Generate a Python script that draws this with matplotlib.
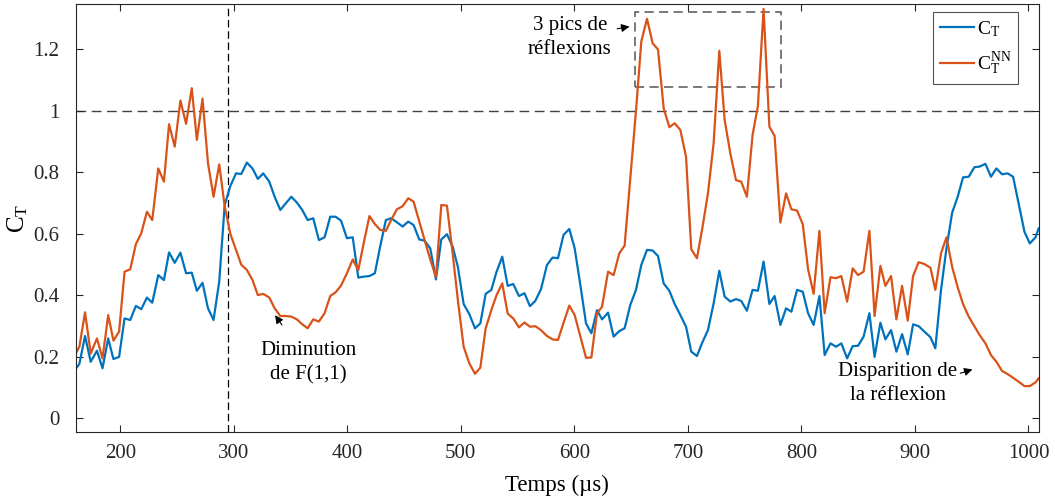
import matplotlib
matplotlib.use('Agg')
import matplotlib.pyplot as plt
from matplotlib.patches import Rectangle

plt.rcParams['font.family'] = ['Liberation Serif', 'DejaVu Serif']
plt.rcParams['mathtext.fontset'] = 'custom'
plt.rcParams['mathtext.rm'] = 'Liberation Serif'
plt.rcParams['mathtext.it'] = 'Liberation Serif:italic'

# temps (us)
temps = [160.4, 164, 169, 174, 179.5, 184.4, 189.4, 194, 199, 203.8,
         208.8, 213.8, 218.5, 223.5, 228.2, 233.5, 238.5, 243, 248, 253,
         258, 263, 267.5, 272.5, 277.3, 282.2, 287.2, 292, 297, 302,
         306.6, 311.5, 316.5, 321.2, 326, 331.3, 336, 341, 346, 350.7,
         355.6, 360.3, 365.1, 370, 375, 380, 385, 389.7, 394.5, 399.7,
         404.8, 409.7, 414.4, 419.5, 424.3, 429, 434, 438.6, 443.7, 448.7,
         453.7, 458.4, 463.4, 468.1, 473.1, 478.1, 482.8, 487.8, 492.8, 497.4,
         502.5, 507.5, 512.5, 517.2, 521.9, 526.9, 531.5, 536.5, 541.3, 546.2,
         551.2, 556.1, 560.9, 565.6, 570.6, 575.9, 580.8, 585.6, 590.5, 595.6,
         600.3, 605.3, 610.3, 615, 620, 624.4, 629.7, 634.6, 639.6, 644.3,
         649.3, 654.3, 659, 664, 669, 673.7, 678.7, 683.7, 688.4, 693.4,
         698.4, 703, 708, 713, 717.7, 722.7, 727.7, 732.4, 737.4, 742.4,
         747, 752, 757, 761.7, 766.7, 771.8, 776.4, 781.5, 786.5, 791.2,
         796.2, 801.2, 805.9, 810.8, 815.9, 820.5, 825.6, 830.6, 835.2, 840.3,
         845.2, 849.9, 854.8, 859.9, 864.5, 869.6, 874, 879, 883.7, 888.7,
         893.7, 898.4, 903.3, 908.4, 913.7, 918, 923, 927.8, 932.8, 937.7,
         942.4, 947.4, 952.4, 957, 962.1, 967, 971.8, 976.8, 981.7, 986.5,
         991.5, 996.5, 1001.2, 1006.2, 1009]

ct = [0.159, 0.177, 0.268, 0.184, 0.22, 0.163, 0.26, 0.193, 0.2, 0.325,
      0.32, 0.366, 0.355, 0.393, 0.376, 0.466, 0.45, 0.54, 0.506, 0.539,
      0.472, 0.474, 0.415, 0.441, 0.358, 0.32, 0.445, 0.694, 0.756, 0.797,
      0.795, 0.832, 0.813, 0.779, 0.797, 0.77, 0.721, 0.678, 0.7, 0.721,
      0.702, 0.678, 0.645, 0.651, 0.58, 0.589, 0.656, 0.656, 0.643, 0.586,
      0.589, 0.458, 0.461, 0.463, 0.472, 0.56, 0.645, 0.651, 0.638, 0.624,
      0.64, 0.629, 0.582, 0.578, 0.553, 0.452, 0.582, 0.599, 0.559, 0.493,
      0.372, 0.339, 0.293, 0.309, 0.405, 0.418, 0.477, 0.526, 0.431, 0.437,
      0.398, 0.407, 0.365, 0.382, 0.42, 0.499, 0.523, 0.521, 0.597, 0.616,
      0.553, 0.434, 0.309, 0.277, 0.352, 0.322, 0.344, 0.266, 0.284, 0.293,
      0.369, 0.418, 0.499, 0.548, 0.546, 0.528, 0.439, 0.415, 0.372, 0.336,
      0.298, 0.217, 0.203, 0.249, 0.287, 0.374, 0.48, 0.396, 0.38, 0.388,
      0.382, 0.35, 0.418, 0.415, 0.51, 0.372, 0.398, 0.304, 0.358, 0.347,
      0.418, 0.412, 0.342, 0.304, 0.398, 0.206, 0.244, 0.233, 0.244, 0.195,
      0.235, 0.236, 0.266, 0.342, 0.2, 0.311, 0.257, 0.287, 0.217, 0.274,
      0.208, 0.306, 0.3, 0.282, 0.264, 0.228, 0.418, 0.553, 0.669, 0.721,
      0.784, 0.786, 0.817, 0.819, 0.828, 0.786, 0.813, 0.794, 0.797, 0.786,
      0.697, 0.607, 0.569, 0.589, 0.618]

ct_nn = [0.208, 0.233, 0.345, 0.211, 0.26, 0.195, 0.336, 0.253, 0.282, 0.477,
         0.485, 0.567, 0.602, 0.672, 0.645, 0.813, 0.77, 0.957, 0.884, 1.034,
         0.958, 1.074, 0.906, 1.04, 0.83, 0.721, 0.826, 0.69, 0.6, 0.548,
         0.5, 0.483, 0.45, 0.401, 0.405, 0.393, 0.358, 0.333, 0.333, 0.331,
         0.322, 0.306, 0.293, 0.322, 0.315, 0.342, 0.398, 0.41, 0.432, 0.472,
         0.517, 0.482, 0.569, 0.658, 0.632, 0.613, 0.61, 0.645, 0.68, 0.69,
         0.716, 0.705, 0.64, 0.58, 0.517, 0.46, 0.694, 0.692, 0.537, 0.385,
         0.233, 0.179, 0.145, 0.165, 0.293, 0.352, 0.401, 0.439, 0.341, 0.325,
         0.296, 0.312, 0.298, 0.3, 0.287, 0.268, 0.257, 0.255, 0.311, 0.367,
         0.336, 0.266, 0.197, 0.198, 0.342, 0.363, 0.477, 0.466, 0.537, 0.562,
         0.78, 1.0, 1.226, 1.3, 1.22, 1.2, 1.009, 0.947, 0.96, 0.938,
         0.851, 0.55, 0.521, 0.624, 0.732, 0.895, 1.196, 0.971, 0.862, 0.775,
         0.77, 0.721, 0.922, 1.016, 1.332, 0.949, 0.919, 0.637, 0.732, 0.68,
         0.676, 0.632, 0.485, 0.405, 0.61, 0.342, 0.459, 0.456, 0.463, 0.38,
         0.488, 0.466, 0.477, 0.61, 0.333, 0.496, 0.431, 0.463, 0.322, 0.431,
         0.318, 0.463, 0.508, 0.502, 0.49, 0.418, 0.537, 0.589, 0.493, 0.426,
         0.372, 0.331, 0.3, 0.271, 0.244, 0.206, 0.184, 0.154, 0.144, 0.132,
         0.119, 0.105, 0.105, 0.117, 0.13]

yticks = [0, 0.2, 0.4, 0.6, 0.8, 1, 1.2]
ytick_labels = ['0', '0.2', '0.4', '0.6', '0.8', '1', '1.2']
xticks = [200, 300, 400, 500, 600, 700, 800, 900, 1000]

blue = '#0072BD'
orange = '#D95319'
fs = 15

fig = plt.figure(figsize=(10.55, 4.97), dpi=100)
ax = fig.add_axes([0.072, 0.131, 0.9125, 0.861])

ax.plot(temps, ct, color=blue, lw=1.6, label=r'$\mathrm{C_T}$')
ax.plot(temps, ct_nn, color=orange, lw=1.6, label=r'$\mathrm{C_T^{NN}}$')

# seuil a 1 et limite verticale
ax.axhline(1, color='#404040', lw=1.0, dashes=(7, 4), zorder=1)
ax.axvline(295, color='black', lw=0.9, dashes=(6, 3), zorder=1)

# zone des 3 pics
rect = Rectangle((653, 1.077), 782 - 653, 1.322 - 1.077, fill=False,
                 edgecolor='#555555', lw=1.1, linestyle=(0, (6, 3.5)))
ax.add_patch(rect)

arrow = dict(arrowstyle='-|>', color='black', lw=0.8, mutation_scale=12)
ax.annotate('3 pics de\nréflexions', xy=(651, 1.276), xytext=(596, 1.24),
            ha='center', va='center', fontsize=fs, linespacing=1.35,
            arrowprops=arrow)
ax.annotate('Diminution\nde F(1,1)', xy=(335, 0.343), xytext=(366, 0.18),
            ha='center', va='center', fontsize=fs, linespacing=1.35,
            arrowprops=dict(arrowstyle='-|>', color='black', lw=0.8,
                            mutation_scale=12, shrinkA=12))
ax.annotate('Disparition de\nla réflexion', xy=(953, 0.162), xytext=(885, 0.113),
            ha='center', va='center', fontsize=fs, linespacing=1.35,
            arrowprops=dict(arrowstyle='-|>', color='black', lw=0.8,
                            mutation_scale=12, shrinkA=0,
                            relpos=(1.0, 0.72)))

ax.set_xlim(161, 1009)
ax.set_ylim(-0.044, 1.348)
ax.set_xticks(xticks)
ax.set_yticks(yticks)
ax.set_yticklabels(ytick_labels)
ax.tick_params(direction='in', top=True, right=True, labelsize=fs,
               length=5, width=0.8, colors='#262626')
ax.tick_params(axis='x', pad=9)
ax.tick_params(axis='y', pad=12)
for s in ax.spines.values():
    s.set_color('#262626')
    s.set_linewidth(0.8)

ax.set_xlabel('Temps (µs)', fontsize=16.5, labelpad=8)
ax.set_ylabel(r'$\mathrm{C_T}$', fontsize=18, labelpad=2)

leg = ax.legend(loc='upper right', fontsize=14, fancybox=False,
                edgecolor='#262626', handlelength=1.75, handletextpad=0.15,
                borderpad=0.35, labelspacing=0.6, borderaxespad=0,
                bbox_to_anchor=(0.979, 0.981))
leg.get_frame().set_linewidth(0.8)

fig.savefig('out.png', dpi=100)
